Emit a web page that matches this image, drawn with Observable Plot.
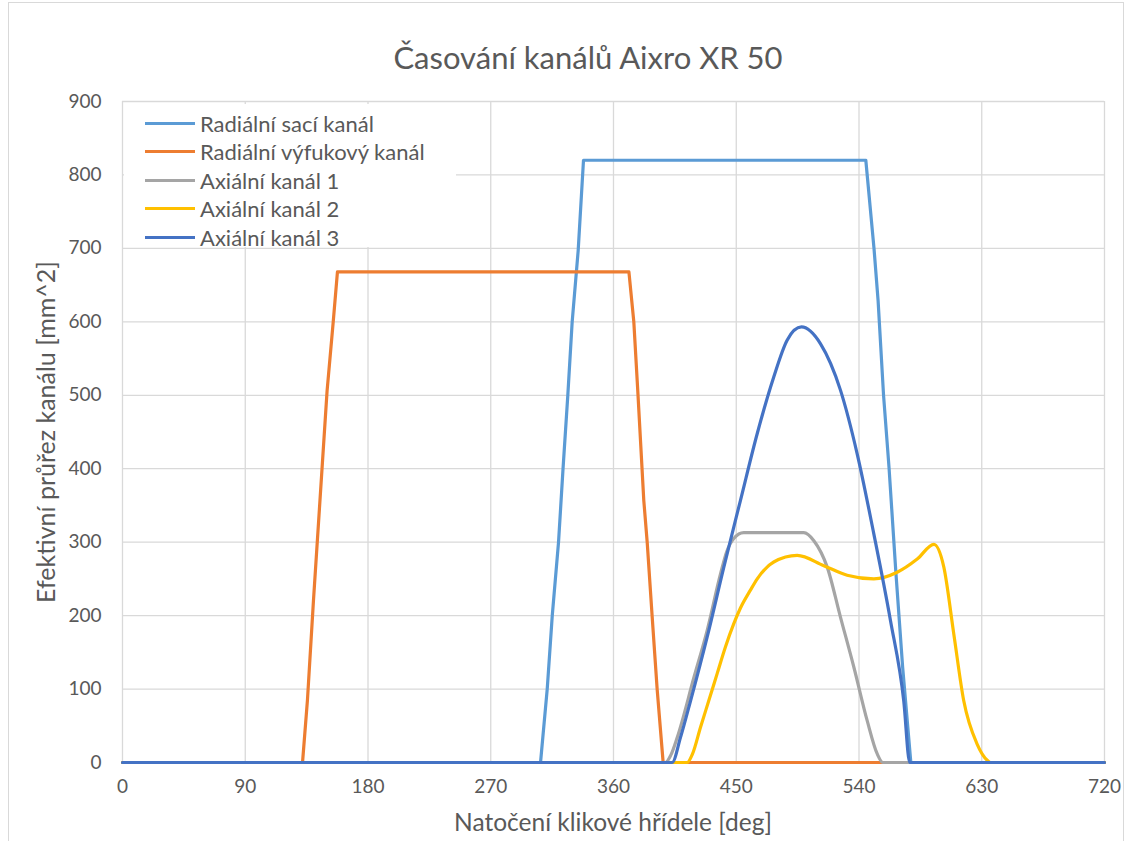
<!DOCTYPE html>
<html>
<head>
<meta charset="utf-8">
<script src="https://cdn.jsdelivr.net/npm/d3@7"></script>
<script src="https://cdn.jsdelivr.net/npm/@observablehq/plot@0.6"></script>
<style>
  body { margin: 0; background: #fff; }
  #wrap { position: relative; width: 1132px; height: 841px; font-family: Lato, "Open Sans", sans-serif; color: #595959; overflow: hidden; }
  #frame { position: absolute; left: 8px; top: 2px; width: 1116px; height: 845px; border: 1px solid #d9d9d9; box-sizing: border-box; }
  #title { position: absolute; left: 0; width: 1176px; top: 39px; line-height: 36px; text-align: center; font-size: 31px; }
  #plot { position: absolute; left: 0; top: 86px; }
  #xlabel { position: absolute; left: 122px; width: 982px; top: 808px; line-height: 28px; text-align: center; font-size: 24.5px; }
  #ylabel { position: absolute; left: 45px; top: 432px; transform: translate(-50%, -50%) rotate(-90deg); white-space: nowrap; line-height: 30px; font-size: 25px; }
  #legend { position: absolute; left: 124px; top: 104px; width: 332px; height: 143px; background: #fff; }
  .item { position: absolute; left: 21px; height: 28px; display: flex; align-items: center; font-size: 22px; color: #595959; white-space: nowrap; }
  .sw { width: 50px; height: 3px; margin-right: 5px; }
</style>
</head>
<body>
<div id="wrap">
  <div id="frame"></div>
  <div id="title">Časování kanálů Aixro XR 50</div>
  <div id="plot"></div>
  <div id="legend"></div>
  <div id="xlabel">Natočení klikové hřídele [deg]</div>
  <div id="ylabel">Efektivní průřez kanálu [mm^2]</div>
</div>
<script>
// Series names and colours
const seriesNames = ["Radiální sací kanál", "Radiální výfukový kanál", "Axiální kanál 1", "Axiální kanál 2", "Axiální kanál 3"];
const seriesColors = ["#5B9BD5", "#ED7D31", "#A5A5A5", "#FFC000", "#4472C4"];

// [crank angle deg, effective area mm^2]
const intake = [[0,0],[306.5,0],[311.4,100],[315.1,200],[319.7,300],[323,400],[326.5,500],[329.7,600],[334.1,697],[338,820],[545,820],[548,760],[551,700],[554,629],[558,500],[562,402],[567,260],[572,130],[578,0],[720,0]];
const exhaust = [[0,0],[132,0],[135.6,85],[140,220],[150,506],[154.5,600],[157.6,668],[371.3,668],[374.9,600],[377.8,506],[382.2,357],[384.7,300],[388.3,200],[392,100],[396.4,0],[720,0]];
const axial1 = [[0,0],[398,0],[402,10],[406.7,34],[419,116],[428.7,180],[438.5,257],[443,287],[448.2,305],[455.5,313],[499.5,313],[506.9,302],[516.7,266],[526.4,198],[536.2,130],[546,57],[553.3,12],[557.5,0],[720,0]];
const axial2 = [[0,0],[414,0],[418,12],[423.8,48],[430,85],[436,121],[442,157],[448.2,189],[453,210],[460.5,235],[465.4,250],[477.5,273],[494.7,282],[514.2,268],[531.3,255],[550.9,250],[568,259],[582.7,277],[594.9,297],[602.2,266],[609.5,175],[616.8,84],[626.6,25],[634,3],[636.4,0],[720,0]];
const axial3 = [[0,0],[403,0],[409.1,34],[416.5,84],[428.7,171],[440.9,266],[453.1,357],[465.4,448],[477.5,525],[487.3,575],[497.8,593],[511.8,570],[526.4,507],[538.7,420],[550.9,311],[563.1,193],[572.8,84],[577.2,0],[720,0]];

// Tick labels
const xTicks = [0, 90, 180, 270, 360, 450, 540, 630, 720];
const yTicks = [0, 100, 200, 300, 400, 500, 600, 700, 800, 900];

const allSeries = [intake, exhaust, axial1, axial2, axial3];
const curves = ["linear", "linear", "monotone-x", "monotone-x", "monotone-x"];

const chart = Plot.plot({
  width: 1132,
  height: 755,
  marginLeft: 122,
  marginRight: 28,
  marginTop: 15,
  marginBottom: 79,
  style: { fontFamily: "Lato, 'Open Sans', sans-serif", fontSize: "19px", color: "#595959", background: "transparent" },
  x: { domain: [0, 720] },
  y: { domain: [0, 900] },
  marks: [
    Plot.gridX(xTicks, { stroke: "#d9d9d9", strokeOpacity: 1, strokeWidth: 1.3 }),
    Plot.gridY(yTicks, { stroke: "#d9d9d9", strokeOpacity: 1, strokeWidth: 1.3 }),
    Plot.axisX(xTicks, { tickSize: 0, tickPadding: 17, label: null, fill: "#595959" }),
    Plot.axisY(yTicks, { tickSize: 0, tickPadding: 21, label: null, fill: "#595959" }),
    ...allSeries.map((s, i) => Plot.line(s, {
      x: d => d[0], y: d => d[1],
      stroke: seriesColors[i], strokeWidth: 3.2, curve: curves[i]
    }))
  ]
});
document.getElementById("plot").appendChild(chart);

const legend = document.getElementById("legend");
seriesNames.forEach((n, i) => {
  const it = document.createElement("div");
  it.className = "item";
  it.style.top = (5 + i * 28.6) + "px";
  it.innerHTML = `<span class="sw" style="background:${seriesColors[i]}"></span><span>${n}</span>`;
  legend.appendChild(it);
});
</script>
</body>
</html>
